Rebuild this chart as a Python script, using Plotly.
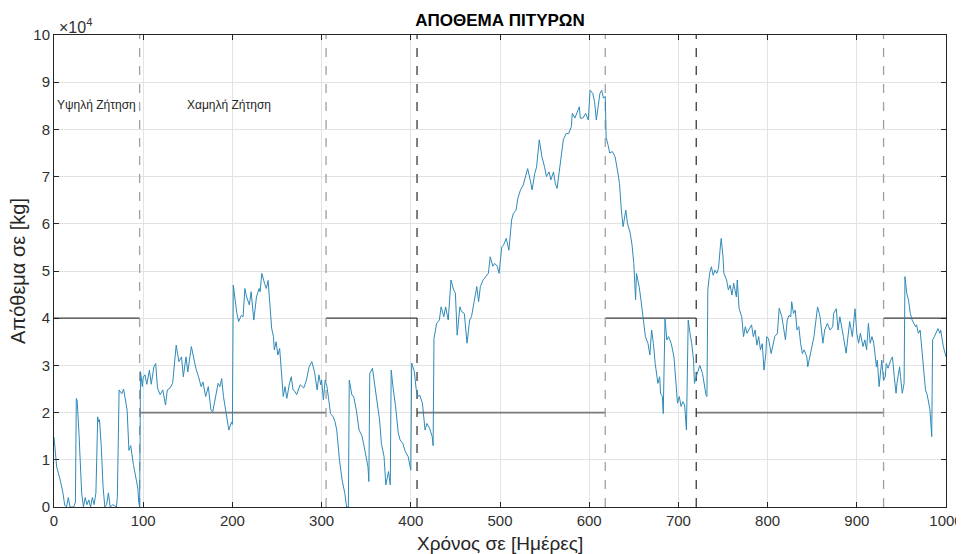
import plotly.graph_objects as go

# ---- data ----
days = [0, 3, 7, 10, 12, 14, 16, 18, 22, 24, 25, 26, 28, 31, 33, 35, 37, 39, 41, 43, 45, 47, 49, 50, 51, 53, 55, 57, 59, 61, 63, 66, 70, 71, 73, 76, 78, 80, 82, 84, 86, 89, 92, 94, 95, 96,
        97, 99, 100, 102, 104, 107, 109, 112, 114, 116, 119, 122, 125, 127, 130, 133, 137, 140, 143, 145, 148, 150, 154, 156, 159, 162, 165, 167, 170, 173, 176, 178, 181, 184, 186, 188, 190, 193, 196, 199, 200,
        201, 203, 205, 207, 210, 212, 214, 216, 219, 221, 224, 227, 230, 231, 233, 236, 238, 240, 242, 244, 246, 247, 249, 251, 253, 255, 257, 259, 261, 264, 266, 268, 270, 272, 276, 280, 283, 286, 289, 292, 295, 297, 299, 300,
        302, 304, 306, 308, 310, 313, 315, 317, 320, 323, 326, 328, 330, 331, 334, 336, 339, 342, 345, 347, 349, 352, 353, 354, 357, 360, 362, 365, 367, 370, 372, 375, 377, 378, 380, 383, 386, 388, 391, 394, 397, 400,
        401, 404, 406, 408, 410, 413, 416, 418, 421, 424, 425, 426, 429, 432, 434, 437, 439, 442, 445, 448, 450, 452, 455, 457, 460, 463, 466, 468, 471, 474, 476, 478, 481, 484, 487, 489, 492, 494, 497, 499,
        502, 504, 507, 510, 513, 515, 518, 520, 523, 526, 529, 531, 534, 536, 539, 541, 544, 547, 550, 552, 555, 557, 560, 562, 564, 567, 569, 571, 574, 577, 580, 581, 584, 586, 589, 590, 593, 596, 599,
        601, 604, 606, 608, 610, 612, 614, 616, 618, 619, 621, 623, 626, 629, 632, 634, 636, 638, 641, 643, 646, 648, 650, 652, 653, 656, 658, 661, 663, 666, 668, 670, 672, 674, 677, 679, 680, 682, 683,
        685, 687, 689, 692, 695, 697, 699, 701, 703, 705, 707, 709, 711, 713, 715, 717, 718, 720, 722, 724, 727, 729, 731, 732, 733, 735, 737, 739, 741, 743, 745, 747, 748, 750, 751, 754, 756, 758, 760, 762, 765, 766, 768,
        771, 773, 775, 777, 780, 782, 784, 786, 788, 790, 792, 794, 796, 798, 799, 801, 804, 806, 808, 811, 813, 816, 818, 820, 822, 824, 826, 827, 829, 831, 833, 835, 837, 839, 841, 844, 845, 848, 850, 852, 854, 856, 858,
        859, 862, 864, 867, 870, 873, 874, 877, 879, 881, 884, 885, 888, 890, 892, 895, 898, 900, 902, 904, 907, 909, 911, 913, 915, 917, 919, 922, 923, 925, 927, 928, 930, 932, 933, 935, 938, 940, 942, 944, 945, 948, 949,
        951, 953, 954, 956, 958, 960, 962, 964, 966, 967, 969, 971, 973, 975, 977, 979, 980, 982, 984, 985, 987, 989, 991, 993, 994, 997, 998, 1000]

stock_e4 = [1.48, 0.85, 0.57, 0.3, 0.04, 0.0, 0.2, 0.0, 0.0, 0.1, 2.3, 2.25, 1.56, 0.3, 0.0, 0.2, 0.05, 0.15, 0.0, 0.2, 0.05, 0.3, 1.91, 1.8, 1.85, 1.28, 0.43, 0.0, 0.05, 0.3, 0.0, 0.05, 0.0, 0.2, 2.48, 2.4, 2.5, 2.27, 2.05, 1.2, 1.3, 0.9, 0.6, 0.4, 0.1, 0.0,
            2.87, 2.55, 2.75, 2.8, 2.6, 2.9, 2.6, 2.97, 3.04, 2.52, 2.38, 2.48, 2.16, 2.48, 2.52, 2.62, 3.43, 3.08, 3.18, 2.76, 3.18, 2.86, 3.4, 3.22, 2.94, 2.76, 2.55, 2.65, 2.34, 2.55, 2.05, 2.02, 2.34, 2.62, 2.55, 2.72, 2.34, 2.02, 1.63, 1.8, 1.75,
            4.7, 4.4, 4.1, 3.93, 4.06, 4.03, 4.63, 4.45, 4.28, 4.56, 3.96, 4.45, 4.63, 4.56, 4.95, 4.74, 4.63, 4.8, 4.35, 3.79, 3.61, 3.33, 3.5, 3.22, 3.36, 2.76, 2.34, 2.55, 2.3, 2.62, 2.76, 2.48, 2.45, 2.38, 2.59, 2.52, 2.69, 2.97, 3.08, 2.87, 2.48, 2.8, 2.59, 2.69,
            2.27, 2.69, 2.55, 2.27, 1.98, 1.91, 1.81, 1.63, 1.0, 0.57, 0.29, 0.0, 0.0, 2.69, 2.37, 2.34, 2.05, 1.63, 1.52, 1.35, 1.17, 0.85, 0.54, 2.83, 2.94, 2.55, 2.34, 1.84, 1.35, 1.07, 0.47, 0.75, 0.47, 2.9, 2.55, 2.12, 1.56, 1.42, 1.35, 1.17, 1.07, 0.78,
            3.05, 2.87, 2.5, 2.34, 2.37, 2.2, 1.63, 1.77, 1.67, 1.49, 1.3, 3.57, 3.89, 3.96, 4.24, 4.03, 4.24, 3.96, 4.81, 4.6, 4.53, 3.64, 4.24, 4.14, 4.1, 3.47, 3.96, 4.03, 4.35, 4.67, 4.35, 4.67, 4.81, 4.88, 4.95, 5.3, 5.1, 5.16, 5.1, 4.95,
            5.51, 5.55, 5.69, 5.44, 6.08, 6.22, 6.29, 6.54, 6.72, 6.82, 7.03, 7.17, 6.92, 6.72, 7.07, 7.2, 7.78, 7.42, 7.2, 7.0, 7.1, 6.93, 7.1, 6.85, 6.75, 7.2, 7.6, 7.78, 7.91, 7.91, 8.06, 8.34, 8.24, 8.34, 8.48, 8.24, 8.24, 8.34, 8.2,
            8.83, 8.76, 8.59, 8.2, 8.48, 8.76, 8.83, 8.66, 8.7, 7.83, 7.68, 7.5, 7.53, 7.42, 7.1, 6.85, 6.3, 5.94, 6.29, 6.0, 5.8, 5.55, 5.16, 4.39, 4.95, 4.67, 4.39, 3.93, 3.61, 3.46, 3.22, 3.75, 3.46, 3.04, 2.62, 2.76, 2.41, 2.34, 1.98,
            4.0, 3.54, 3.61, 3.46, 3.18, 2.76, 2.2, 2.34, 2.13, 2.23, 2.16, 1.63, 3.96, 3.68, 3.46, 3.11, 2.62, 2.76, 2.9, 3.0, 2.83, 2.55, 2.37, 2.34, 4.6, 4.95, 5.09, 4.91, 5.02, 4.95, 5.06, 5.51, 5.69, 5.3, 4.95, 4.81, 4.6, 4.7, 4.49, 4.74, 4.45, 4.81, 4.21,
            4.03, 3.61, 3.82, 3.68, 3.79, 3.86, 3.61, 3.75, 3.43, 3.61, 3.33, 3.46, 2.9, 3.25, 3.61, 3.57, 3.25, 3.46, 3.61, 3.68, 4.21, 4.03, 3.82, 3.54, 3.96, 4.06, 4.03, 4.35, 4.1, 4.17, 3.75, 3.82, 3.47, 3.25, 3.33, 3.18, 2.97, 3.25, 3.46, 3.61, 3.93, 4.24, 4.1,
            4.0, 3.47, 3.75, 3.89, 3.75, 3.82, 4.1, 4.2, 3.75, 4.03, 3.75, 3.61, 3.26, 3.68, 3.93, 3.61, 4.2, 3.68, 3.47, 3.68, 3.4, 3.54, 3.33, 3.89, 3.47, 3.61, 3.47, 2.97, 3.11, 2.55, 2.9, 3.11, 2.69, 2.76, 3.04, 2.94, 3.11, 3.18, 2.76, 2.41, 2.62, 2.97, 2.76,
            2.41, 2.62, 4.88, 4.53, 4.38, 4.1, 3.96, 3.89, 3.82, 3.86, 3.68, 3.75, 3.33, 2.83, 2.48, 2.37, 2.27, 2.06, 1.49, 3.54, 3.61, 3.71, 3.78, 3.68, 3.75, 3.4, 3.33, 3.18]

stock_kg = [v * 1e4 for v in stock_e4]

# demand periods (threshold levels)
period_bounds = [0, 96, 305, 407, 618, 720, 930, 1000]
period_levels = [40000, 20000, 40000, 20000, 40000, 20000, 40000]
# vertical dashed separators
sep_days = [96, 305, 407, 618, 720, 930]
sep_colors = ["#a0a0a0", "#a0a0a0", "#3a3a3a", "#a0a0a0", "#3a3a3a", "#a0a0a0"]

x_ticks = list(range(0, 1001, 100))
y_ticks = [i * 10000 for i in range(0, 11)]
y_tick_text = [str(i) for i in range(0, 11)]

# figure geometry (page has an 8px body offset)
W, H = 956, 546
ML, MR, MT, MB = 46, 18, 27, 47
PW, PH = W - ML - MR, H - MT - MB

fig = go.Figure()

for i, lvl in enumerate(period_levels):
    fig.add_trace(go.Scatter(
        x=[period_bounds[i], period_bounds[i + 1]], y=[lvl, lvl], mode="lines",
        line=dict(color="#3c3c3c" if lvl == 40000 else "#7a7a7a", width=1.2 if lvl == 40000 else 1.6),
        hoverinfo="skip", showlegend=False))

for d, c in zip(sep_days, sep_colors):
    fig.add_trace(go.Scatter(
        x=[d, d], y=[0, 100000], mode="lines",
        line=dict(color=c, width=1.3, dash="dash"),
        hoverinfo="skip", showlegend=False))

fig.add_trace(go.Scatter(
    x=days, y=stock_kg, mode="lines",
    line=dict(color="#2f8ab8", width=1),
    showlegend=False))

font_main = "Liberation Sans, Arial, sans-serif"
axis_common = dict(
    showline=True, linecolor="#262626", linewidth=1, mirror="ticks",
    ticks="inside", ticklen=5, tickcolor="#262626",
    showgrid=True, gridcolor="#e3e3e3", gridwidth=1, zeroline=False,
    tickfont=dict(family=font_main, size=15, color="#303030"),
    automargin=False,
)

fig.update_layout(
    width=W, height=H,
    margin=dict(l=ML, r=MR, t=MT, b=MB),
    paper_bgcolor="white", plot_bgcolor="white",
    title=dict(text="<b>ΑΠΟΘΕΜΑ ΠΙΤΥΡΩΝ</b>", x=(ML + PW / 2) / W, xanchor="center",
               y=1 - 12 / H, yanchor="middle",
               font=dict(family=font_main, size=17, color="black")),
    xaxis=dict(range=[0, 1000], tickvals=x_ticks, **axis_common),
    yaxis=dict(range=[0, 100000], tickvals=y_ticks, ticktext=y_tick_text, **axis_common),
    annotations=[
        dict(text="Χρόνος σε [Ημέρες]", xref="paper", yref="paper", x=0.5, y=-36 / PH,
             xanchor="center", yanchor="middle", showarrow=False,
             font=dict(family=font_main, size=19, color="#262626")),
        dict(text="Απόθεμα σε [kg]", xref="paper", yref="paper", x=-36 / PW, y=0.5,
             xanchor="center", yanchor="middle", showarrow=False, textangle=-90,
             font=dict(family=font_main, size=20, color="#262626")),
        dict(text="×10<sup>4</sup>", xref="paper", yref="paper", x=0.003, y=1.0,
             xanchor="left", yanchor="bottom", showarrow=False, yshift=-3,
             font=dict(family=font_main, size=16, color="#303030")),
        dict(text="Υψηλή Ζήτηση", xref="x", yref="y", x=48, y=85200, showarrow=False,
             font=dict(family=font_main, size=12, color="#262626")),
        dict(text="Χαμηλή Ζήτηση", xref="x", yref="y", x=196, y=85200, showarrow=False,
             font=dict(family=font_main, size=12, color="#262626")),
    ],
)

fig.write_html("out.html")
